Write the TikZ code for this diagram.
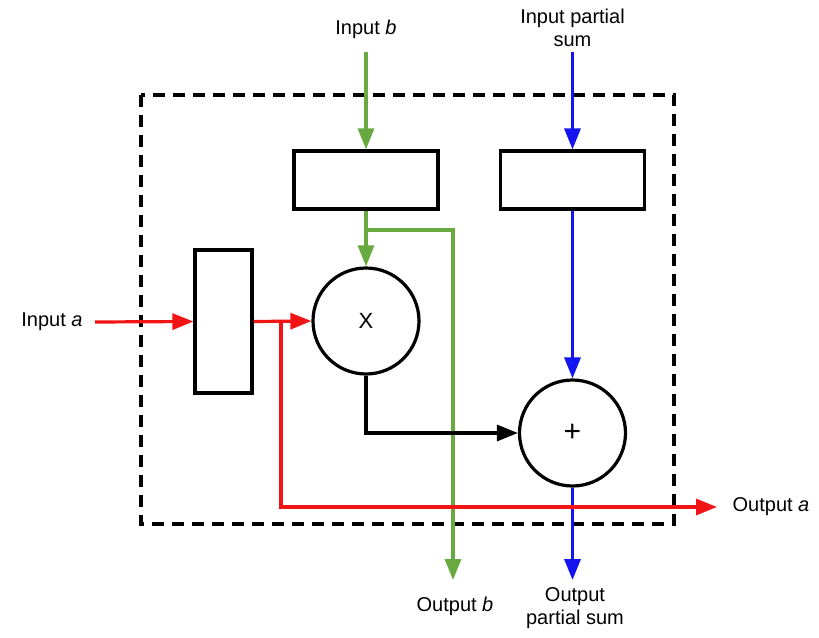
\documentclass[tikz,border=0pt]{standalone}
\usepackage{fontspec}
\setmainfont{Liberation Sans}
\usetikzlibrary{arrows.meta}
\definecolor{sigred}{RGB}{240,20,20}
\definecolor{siggreen}{RGB}{104,170,64}
\definecolor{sigblue}{RGB}{20,20,240}
\tikzset{
  reg/.style={draw,line width=3.2pt,minimum width=144pt,minimum height=58pt,inner sep=0pt},
  op/.style={circle,draw,line width=3.2pt,minimum size=106pt,inner sep=0pt,font=\fontsize{22}{24}\selectfont},
  wire/.style={line width=3.2pt,-{Triangle[length=21pt,width=16pt]}},
  lbl/.style={font=\fontsize{20}{23}\selectfont,align=center,inner sep=0pt}
}
\begin{document}
\begin{tikzpicture}[x=1pt,y=-1pt]
        \useasboundingbox (0,0) rectangle (819,637);
        % cell boundary
        \draw[line width=3.2pt,dash pattern=on 12pt off 8pt] (141,95) rectangle (674,524);
        % registers and operators
        \node[reg] (regb) at (366,180) {};
        \node[reg] (regs) at (572.5,180) {};
        \node[reg,minimum width=57pt,minimum height=143pt] (rega) at (223.5,321.5) {};
        \node[op] (mul) at (366,321) {X};
        \node[op,font=\fontsize{30}{30}\selectfont] (add) at (572.5,433) {+};
        % labels
        \node[lbl] (inb) at (366,29) {Input \textit{b}};
        \node[lbl] (ins) at (572.5,28) {Input partial\\sum};
        \node[lbl] (ina) at (52,322) {Input \textit{a}};
        \node[lbl] (outa) at (771,507) {Output \textit{a}};
        \node[lbl] (outb) at (455,606) {Output \textit{b}};
        \node[lbl] (outs) at (575,608) {Output\\partial sum};
        % free ends and branch points
        \coordinate (inbtop) at (366,52);
        \coordinate (instop) at (572.5,52);
        \coordinate (inaend) at (95,322);
        \coordinate (bsplit) at (366,230);
        \coordinate (asplit) at (281,322);
        \coordinate (outbend) at (453,580);
        \coordinate (outsend) at (572.5,580);
        \coordinate (outaend) at (717,507);
        % input b
        \draw[wire,siggreen] (inbtop) -- (regb.north);
        \draw[wire,siggreen] (regb.south) -- (mul.north);
        \draw[wire,siggreen] (bsplit) -| (outbend);
        % partial sum
        \draw[wire,sigblue] (instop) -- (regs.north);
        \draw[wire,sigblue] (regs.south) -- (add.north);
        \draw[wire,sigblue] (add.south) -- (outsend);
        % input a
        \draw[wire,sigred] (inaend) -- (rega.west);
        \draw[wire,sigred] (rega.east) -- (mul.west);
        \draw[wire,sigred] (asplit) |- (outaend);
        % product
        \draw[wire,black] (mul.south) |- (add.west);
\end{tikzpicture}
\end{document}
